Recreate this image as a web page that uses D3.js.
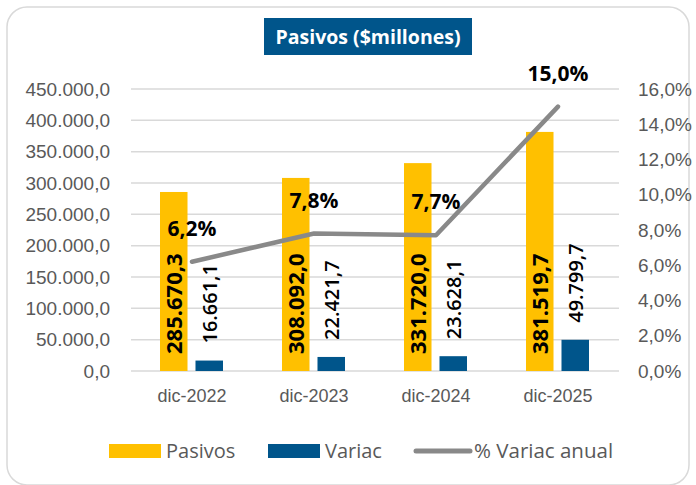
<!DOCTYPE html>
<html>
<head>
<meta charset="utf-8">
<script src="https://cdn.jsdelivr.net/npm/d3@7"></script>
<style>
  body { margin: 0; background: #fff; }
  svg { font-family: "Open Sans", sans-serif; }
</style>
</head>
<body>
<div class="chart"></div>
<script>
var categories = ["dic-2022", "dic-2023", "dic-2024", "dic-2025"];
var pasivos = [285670.3, 308092.0, 331720.0, 381519.7];
var variac = [16661.1, 22421.7, 23628.1, 49799.7];
var variacAnual = [6.2, 7.8, 7.7, 15.0];
var leftTicks = [0, 50000, 100000, 150000, 200000, 250000, 300000, 350000, 400000, 450000];
var rightTicks = [0, 2, 4, 6, 8, 10, 12, 14, 16];

var width = 696, height = 485;
var plot = { left: 131, right: 619, top: 89, bottom: 371 };

var svg = d3.select(".chart").append("svg")
    .attr("width", width)
    .attr("height", height);

// chart border
svg.append("rect")
    .attr("x", 7).attr("y", 7)
    .attr("width", 682).attr("height", 478)
    .attr("rx", 20)
    .attr("fill", "white")
    .attr("stroke", "#d9d9d9")
    .attr("stroke-width", 1.5);

var fmtNum = function(v){
    return d3.format(",.1f")(v).replace(/,/g, "#").replace(".", ",").replace(/#/g, ".");
};
var fmtPct = function(v){ return v.toFixed(1).replace(".", ",") + "%"; };

var x0 = d3.scaleBand().domain(categories).range([plot.left, plot.right]);
var x1 = d3.scaleBand().domain(["p", "v"]).range([29, 92]).paddingInner(0.225);
var yL = d3.scaleLinear().domain([0, 450000]).range([plot.bottom, plot.top]);
var yR = d3.scaleLinear().domain([0, 16]).range([plot.bottom, plot.top]);

// gridlines
svg.append("g").selectAll("line")
    .data(leftTicks)
    .join("line")
    .attr("x1", plot.left).attr("x2", plot.right)
    .attr("y1", d => yL(d)).attr("y2", d => yL(d))
    .attr("stroke", "#d9d9d9")
    .attr("stroke-width", 1.5);

// left axis
var leftAxis = svg.append("g")
    .attr("transform", "translate(" + plot.left + ",0)")
    .call(d3.axisLeft(yL).tickValues(leftTicks).tickSize(0).tickPadding(21).tickFormat(fmtNum));
leftAxis.select(".domain").remove();
leftAxis.selectAll("text").attr("fill", "#595959").style("font-size", "19px");

// right axis
var rightAxis = svg.append("g")
    .attr("transform", "translate(" + plot.right + ",0)")
    .call(d3.axisRight(yR).tickValues(rightTicks).tickSize(0).tickPadding(19).tickFormat(fmtPct));
rightAxis.select(".domain").remove();
rightAxis.selectAll("text").attr("fill", "#595959").style("font-size", "19px");

// bottom axis
var bottomAxis = svg.append("g")
    .attr("transform", "translate(0," + plot.bottom + ")")
    .call(d3.axisBottom(x0).tickSize(0).tickPadding(18));
bottomAxis.select(".domain").remove();
bottomAxis.selectAll("text").attr("fill", "#595959").style("font-size", "18px");

// bars
svg.append("g").selectAll("rect")
    .data(pasivos)
    .join("rect")
    .attr("x", (d, i) => x0(categories[i]) + x1("p"))
    .attr("y", d => yL(d))
    .attr("width", x1.bandwidth())
    .attr("height", d => yL(0) - yL(d))
    .attr("fill", "#ffc000");

svg.append("g").selectAll("rect")
    .data(variac)
    .join("rect")
    .attr("x", (d, i) => x0(categories[i]) + x1("v"))
    .attr("y", d => yL(d))
    .attr("width", x1.bandwidth())
    .attr("height", d => yL(0) - yL(d))
    .attr("fill", "#00558b");

// bar labels
svg.append("g").selectAll("text")
    .data(pasivos)
    .join("text")
    .attr("transform", (d, i) => "translate(" + (x0(categories[i]) + x1("p") + x1.bandwidth() / 2 + 8) + "," + (yL(0) - 17) + ") rotate(-90)")
    .attr("font-size", "22px")
    .attr("font-weight", "bold")
    .attr("fill", "black")
    .text(d => fmtNum(d));

svg.append("g").selectAll("text")
    .data(variac)
    .join("text")
    .attr("transform", (d, i) => "translate(" + (x0(categories[i]) + x1("v") + x1.bandwidth() / 2 + 8) + "," + (yL(d) - 17) + ") rotate(-90)")
    .attr("font-size", "20px")
    .attr("font-weight", "600")
    .attr("fill", "black")
    .text(d => fmtNum(d));

// line
var line = d3.line()
    .x((d, i) => x0(categories[i]) + x0.bandwidth() / 2)
    .y(d => yR(d));

svg.append("path")
    .datum(variacAnual)
    .attr("d", line)
    .attr("fill", "none")
    .attr("stroke", "#898989")
    .attr("stroke-width", 4.5)
    .attr("stroke-linejoin", "round")
    .attr("stroke-linecap", "round");

svg.append("g").selectAll("text")
    .data(variacAnual)
    .join("text")
    .attr("x", (d, i) => x0(categories[i]) + x0.bandwidth() / 2)
    .attr("y", d => yR(d) - 26)
    .attr("text-anchor", "middle")
    .attr("font-size", "21px")
    .attr("font-weight", "bold")
    .attr("fill", "black")
    .text(d => fmtPct(d));

// title
svg.append("rect")
    .attr("x", 264).attr("y", 18)
    .attr("width", 208).attr("height", 37)
    .attr("fill", "#00558b");
svg.append("text")
    .attr("x", 368).attr("y", 44)
    .attr("text-anchor", "middle")
    .attr("font-size", "19.5px")
    .attr("font-weight", "bold")
    .attr("fill", "white")
    .text("Pasivos ($millones)");

// legend
var legend = svg.append("g").attr("fill", "#595959").style("font-size", "20px");
legend.append("rect").attr("x", 109).attr("y", 444).attr("width", 52).attr("height", 14).attr("fill", "#ffc000");
legend.append("text").attr("x", 166).attr("y", 458).text("Pasivos");
legend.append("rect").attr("x", 268).attr("y", 444).attr("width", 52).attr("height", 14).attr("fill", "#00558b");
legend.append("text").attr("x", 325).attr("y", 458).text("Variac");
legend.append("line").attr("x1", 416).attr("x2", 470).attr("y1", 451).attr("y2", 451)
    .attr("stroke", "#898989").attr("stroke-width", 5).attr("stroke-linecap", "round");
legend.append("text").attr("x", 474).attr("y", 458).style("font-size", "20.5px").text("% Variac anual");
</script>
</body>
</html>
